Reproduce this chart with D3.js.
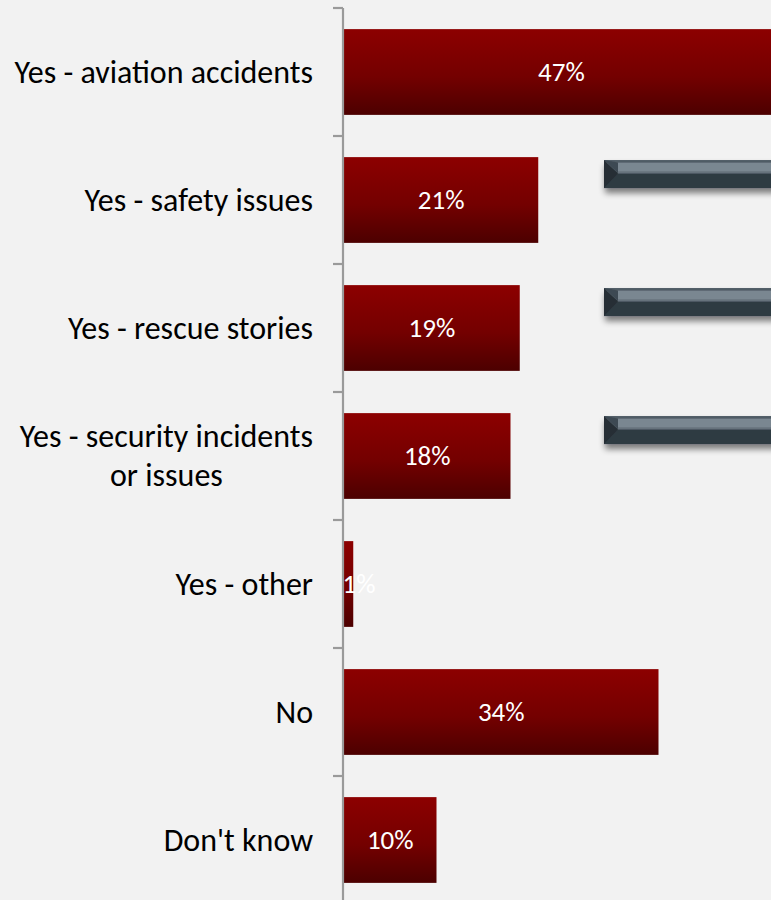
<!DOCTYPE html>
<html>
<head>
<meta charset="utf-8">
<script src="https://cdn.jsdelivr.net/npm/d3@7"></script>
<style>
  html, body { margin: 0; padding: 0; background: #f2f2f2; }
  svg { display: block; }
</style>
</head>
<body>
<svg id="chart" width="771" height="900"></svg>
<script>
// Share of respondents recalling each kind of aviation news coverage
const categories = [
  ["Yes - aviation accidents"],
  ["Yes - safety issues"],
  ["Yes - rescue stories"],
  ["Yes - security incidents", "or issues"],
  ["Yes - other"],
  ["No"],
  ["Don't know"]
];
const values = [47, 21, 19, 18, 1, 34, 10];
// Decorative bevelled pointers sit beside these rows
const pointerRows = [1, 2, 3];

const W = 771, H = 900;
const svg = d3.select("#chart");
const font = "Carlito, Calibri, 'Open Sans', sans-serif";

const y = d3.scaleBand()
  .domain(d3.range(categories.length))
  .range([8, 904])
  .paddingInner(0.33)
  .paddingOuter(0.165);

const x = d3.scaleLinear().domain([0, 50]).range([344, 806.5]);

const defs = svg.append("defs");
const grad = defs.append("linearGradient")
  .attr("id", "barGrad").attr("x1", 0).attr("y1", 0).attr("x2", 0).attr("y2", 1);
grad.append("stop").attr("offset", "0%").attr("stop-color", "#8c0000");
grad.append("stop").attr("offset", "55%").attr("stop-color", "#740000");
grad.append("stop").attr("offset", "100%").attr("stop-color", "#4c0000");

const shadow = defs.append("filter").attr("id", "shadow")
  .attr("x", "-10%").attr("y", "-30%").attr("width", "130%").attr("height", "180%");
shadow.append("feGaussianBlur").attr("in", "SourceAlpha").attr("stdDeviation", 3);
shadow.append("feOffset").attr("dx", 1).attr("dy", 5).attr("result", "ob");
shadow.append("feComponentTransfer").append("feFuncA").attr("type", "linear").attr("slope", 0.5);
const merge = shadow.append("feMerge");
merge.append("feMergeNode");
merge.append("feMergeNode").attr("in", "SourceGraphic");

// Bars
svg.append("g").selectAll("rect")
  .data(values)
  .join("rect")
  .attr("x", x(0))
  .attr("y", (d, i) => y(i))
  .attr("width", d => x(d) - x(0))
  .attr("height", y.bandwidth())
  .attr("fill", "url(#barGrad)");

// Value labels
svg.append("g").selectAll("text")
  .data(values)
  .join("text")
  .attr("x", d => Math.max((x(d) + x(0)) / 2, x(0) + 15))
  .attr("y", (d, i) => y(i) + y.bandwidth() / 2)
  .attr("dy", "0.33em")
  .attr("text-anchor", "middle")
  .attr("fill", "#ffffff")
  .style("font-family", font)
  .style("font-size", "27px")
  .text(d => d + "%");

// Axis with ticks at category boundaries
const axis = svg.append("g");
const step = y.step();
axis.append("line")
  .attr("x1", 343).attr("x2", 343)
  .attr("y1", 8).attr("y2", 904)
  .attr("stroke", "#9a9a9a").attr("stroke-width", 2.2);
axis.selectAll("line.tick")
  .data(d3.range(categories.length))
  .join("line")
  .attr("class", "tick")
  .attr("x1", 333).attr("x2", 343)
  .attr("y1", i => y(i) - y.paddingInner() * step / 2)
  .attr("y2", i => y(i) - y.paddingInner() * step / 2)
  .attr("stroke", "#9a9a9a").attr("stroke-width", 2.2);

// Category labels, right-aligned; multi-line labels centred as a block
const labelRight = 313;
const lineH = 39;
const catG = svg.append("g");
categories.forEach((lines, i) => {
  const cy = y(i) + y.bandwidth() / 2;
  const t = catG.append("text")
    .attr("fill", "#000")
    .style("font-family", font)
    .style("font-size", "32px");
  const spans = lines.map((ln, k) => t.append("tspan")
    .attr("y", cy + (k - (lines.length - 1) / 2) * lineH)
    .attr("dy", "0.33em")
    .text(ln));
  if (lines.length === 1) {
    t.attr("text-anchor", "end");
    spans[0].attr("x", labelRight);
  } else {
    const widths = spans.map(s => s.node().getComputedTextLength());
    const maxW = d3.max(widths);
    const cx = labelRight - maxW / 2;
    t.attr("text-anchor", "middle");
    spans.forEach(s => s.attr("x", cx));
  }
});

// Bevelled grey pointers
const ptrX = 604, ptrH = 28;
const ptrG = svg.append("g");
pointerRows.forEach(i => {
  const top = y(i) + 3;
  const g = ptrG.append("g").attr("filter", "url(#shadow)");
  const w = W - ptrX + 10;
  g.append("rect").attr("x", ptrX).attr("y", top).attr("width", w).attr("height", ptrH)
    .attr("fill", "#2f3a43");
  g.append("rect").attr("x", ptrX).attr("y", top).attr("width", w).attr("height", ptrH * 0.47)
    .attr("fill", "#7a8791");
  g.append("rect").attr("x", ptrX).attr("y", top).attr("width", w).attr("height", 2.5)
    .attr("fill", "#4f5b65");
  g.append("rect").attr("x", ptrX).attr("y", top + ptrH * 0.4).attr("width", w).attr("height", 2)
    .attr("fill", "#66727c");
  g.append("path")
    .attr("d", `M${ptrX},${top} L${ptrX + 14},${top + ptrH * 0.47} L${ptrX},${top + ptrH} Z`)
    .attr("fill", "#252e35");
  g.append("path")
    .attr("d", `M${ptrX},${top} L${ptrX + 14},${top + ptrH * 0.47} L${ptrX + 14},${top + 2.5} Z`)
    .attr("fill", "#3e4952");
});
</script>
</body>
</html>
